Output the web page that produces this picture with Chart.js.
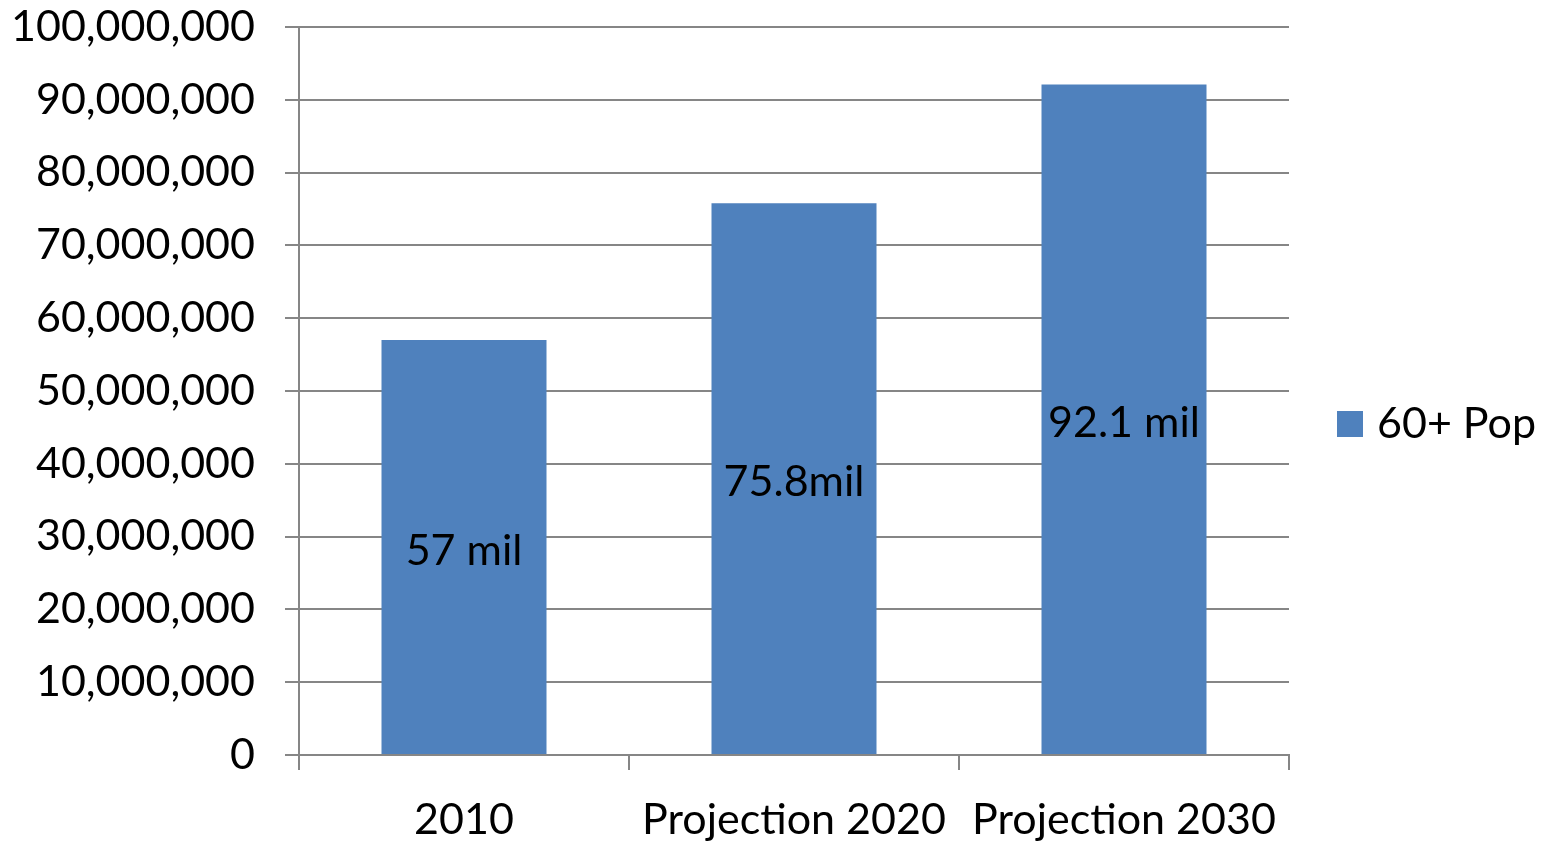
<!DOCTYPE html>
<html>
<head>
<meta charset="utf-8">
<script src="https://cdn.jsdelivr.net/npm/chart.js@4"></script>
<style>
  html, body { margin: 0; padding: 0; background: #fff; }
  #wrap { width: 1548px; height: 841px; }
</style>
</head>
<body>
<div id="wrap"><canvas id="chart"></canvas></div>
<script>
const categories = ['2010', 'Projection 2020', 'Projection 2030'];
const popValues = [57000000, 75800000, 92100000];
const barLabels = ['57 mil', '75.8mil', '92.1 mil'];
const seriesName = '60+ Pop';

const FONT = 'Lato, "Open Sans", sans-serif';
const BLUE = '#4f81bd';
const GRID = '#868686';

// labels in the middle of each bar + legend on the right
const extras = {
  id: 'extras',
  afterDatasetsDraw(chart) {
    const ctx = chart.ctx;
    const meta = chart.getDatasetMeta(0);
    ctx.save();
    ctx.font = '43px ' + FONT;
    ctx.fillStyle = '#000';
    ctx.textAlign = 'center';
    ctx.textBaseline = 'middle';
    meta.data.forEach((bar, i) => {
      const mid = (bar.y + bar.base) / 2 + 4;
      ctx.fillText(barLabels[i], bar.x, mid);
    });
    // legend
    const ca = chart.chartArea;
    const ly = 424;
    ctx.fillStyle = BLUE;
    ctx.fillRect(ca.right + 48, ly - 13, 26, 26);
    ctx.fillStyle = '#000';
    ctx.textAlign = 'left';
    ctx.fillText(chart.data.datasets[0].label, ca.right + 88, ly);
    ctx.restore();
  }
};

new Chart(document.getElementById('chart'), {
  type: 'bar',
  data: {
    labels: categories,
    datasets: [{
      label: seriesName,
      data: popValues,
      backgroundColor: BLUE,
      categoryPercentage: 0.5,
      barPercentage: 1.0
    }]
  },
  options: {
    responsive: true,
    maintainAspectRatio: false,
    animation: false,
    layout: { padding: { top: 0, right: 259, bottom: 0, left: 0 } },
    plugins: { legend: { display: false }, tooltip: { enabled: false } },
    scales: {
      x: {
        grid: { offset: true, drawOnChartArea: false, drawTicks: true, tickLength: 15, color: GRID, lineWidth: 2 },
        border: { color: GRID, width: 2 },
        ticks: { color: '#000', font: { family: FONT, size: 43 }, padding: 24, maxRotation: 0 },
        afterFit(s) { s.height = 86; }
      },
      y: {
        min: 0,
        max: 100000000,
        grid: { color: GRID, lineWidth: 2, tickLength: 14 },
        border: { color: GRID, width: 2 },
        ticks: {
          stepSize: 10000000,
          color: '#000',
          font: { family: FONT, size: 43 },
          padding: 30,
          callback: v => v.toLocaleString('en-US')
        },
        afterFit(s) { s.width = 299; s.paddingTop = 27; s.paddingBottom = 0; }
      }
    }
  },
  plugins: [extras]
});
</script>
</body>
</html>
